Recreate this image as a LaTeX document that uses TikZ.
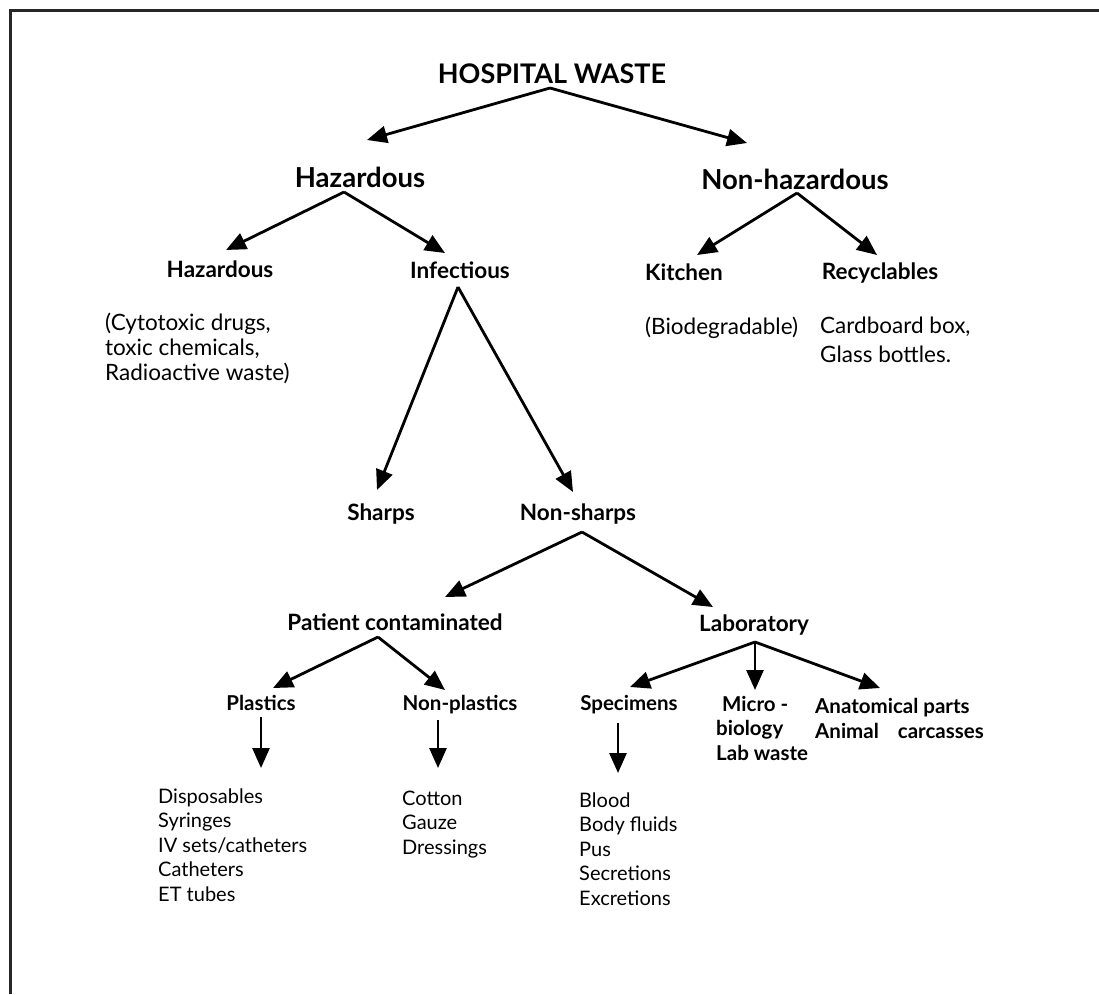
\documentclass[tikz,border=0pt]{standalone}
\usepackage{fontspec}
\setmainfont{Lato}
\usetikzlibrary{arrows.meta}

\begin{document}
\begin{tikzpicture}[x=1pt, y=-1pt,
            arr/.style={-{Triangle[length=20pt, width=17pt]}, line width=2.8pt},
            frame/.style={line width=3pt, draw=black!85},
            toplabel/.style={inner sep=0pt, anchor=base, font=\fontsize{27}{32}\selectfont\bfseries},
            firstlabel/.style={inner sep=0pt, anchor=base, font=\fontsize{27.5}{32}\selectfont\bfseries},
            catlabel/.style={inner sep=0pt, anchor=base, font=\fontsize{22.5}{26}\selectfont\bfseries},
            sublabel/.style={inner sep=0pt, anchor=base, font=\fontsize{20.5}{25}\selectfont\bfseries},
            sublist/.style={inner sep=0pt, anchor=base west, align=left, font=\fontsize{20.5}{24.5}\selectfont\bfseries},
            itemlist/.style={inner sep=0pt, anchor=base west, align=left, font=\fontsize{20}{24.5}\selectfont},
            notelist/.style={inner sep=0pt, anchor=base west, align=left, font=\fontsize{22.5}{25}\selectfont}
        ]
            \useasboundingbox (0, 0) rectangle (1099, 994);

            % page frame (top and left only)
            \draw[frame] (1099, 10) -- (10, 10) -- (10, 994);

            % main split
            \node[toplabel] (waste) at (552, 83) {HOSPITAL WASTE};
            \node[firstlabel] (haz) at (360, 187) {Hazardous};
            \node[firstlabel] (nonhaz) at (795, 189) {Non-hazardous};

            % hazardous side
            \node[catlabel] (chem) at (220, 277) {Hazardous};
            \node[catlabel] (infect) at (460, 278) {Infectious};
            \node[notelist] (chemlist) at (105, 380) {(Cytotoxic drugs,\\toxic chemicals,\\Radioactive waste)};

            % non-hazardous side
            \node[catlabel] (kitchen) at (684, 280) {Kitchen};
            \node[catlabel] (recyc) at (880, 279) {Recyclables};
            \node[notelist] (bio) at (645, 334) {(Biodegradable)};
            \node[notelist, font=\fontsize{22.5}{29}\selectfont] (boxes) at (820, 362) {Cardboard box,\\Glass bottles.};

            % infectious
            \node[catlabel] (sharps) at (381, 520) {Sharps};
            \node[catlabel] (nonsharps) at (578, 520) {Non-sharps};
            \node[catlabel] (patient) at (395, 630) {Patient contaminated};
            \node[catlabel] (lab) at (754, 631) {Laboratory};

            \node[sublabel] (plastics) at (261, 710) {Plastics};
            \node[sublabel] (nonplastics) at (460, 710) {Non-plastics};
            \node[sublabel] (specimens) at (629, 710) {Specimens};
            \node[sublist] (micro) at (716, 760) {\hspace{6pt}Micro -\\biology\\Lab waste};
            \node[sublist] (anat) at (815, 738) {Anatomical parts\\Animal\hspace{14pt} carcasses};

            \node[itemlist] (disp) at (158, 901) {Disposables\\Syringes\\IV sets/catheters\\Catheters\\ET tubes};
            \node[itemlist] (cotton) at (402, 854) {Cotton\\Gauze\\Dressings};
            \node[itemlist] (blood) at (579, 905) {Blood\\Body fluids\\Pus\\Secretions\\Excretions};

            % arrows
            \draw[arr] ([shift={(-2, 5)}] waste.base) -- ([shift={(7, -47)}] haz.base);
            \draw[arr] ([shift={(-2, 5)}] waste.base) -- ([shift={(-48, -46)}] nonhaz.base);

            \draw[arr] ([shift={(-16, 5)}] haz.base) -- ([shift={(6, -27)}] chem.base);
            \draw[arr] ([shift={(-16, 5)}] haz.base) -- ([shift={(-15, -25)}] infect.base);
            \draw[arr] ([shift={(2, 4)}] nonhaz.base) -- ([shift={(13, -25)}] kitchen.base);
            \draw[arr] ([shift={(2, 4)}] nonhaz.base) -- ([shift={(-3, -24)}] recyc.base);

            \draw[arr] ([shift={(-2, 9)}] infect.base) -- ([shift={(-4, -30)}] sharps.base);
            \draw[arr] ([shift={(-2, 9)}] infect.base) -- ([shift={(-5, -28)}] nonsharps.base);
            \draw[arr] ([shift={(4, 12)}] nonsharps.base) -- ([shift={(50, -33)}] patient.base);
            \draw[arr] ([shift={(4, 12)}] nonsharps.base) -- ([shift={(-41, -24)}] lab.base);

            \draw[arr] ([shift={(-17, 7)}] patient.base) -- ([shift={(12, -22)}] plastics.base);
            \draw[arr] ([shift={(-17, 7)}] patient.base) -- ([shift={(-15, -20)}] nonplastics.base);
            \draw[arr] ([shift={(1, 11)}] lab.base) -- ([shift={(1, -23)}] specimens.base);
            \draw[arr] ([shift={(1, 11)}] lab.base) -- ([shift={(39, -70)}] micro.base west);
            \draw[arr] ([shift={(1, 11)}] lab.base) -- ([shift={(65, -50)}] anat.base west);

            \draw[arr] ([shift={(0, 7)}] plastics.base) -- ([shift={(103, -133)}] disp.base west);
            \draw[arr] ([shift={(-22, 10)}] nonplastics.base) -- ([shift={(36, -86)}] cotton.base west);
            \draw[arr] ([shift={(-11, 13)}] specimens.base) -- ([shift={(39, -132)}] blood.base west);
        \end{tikzpicture}
\end{document}
